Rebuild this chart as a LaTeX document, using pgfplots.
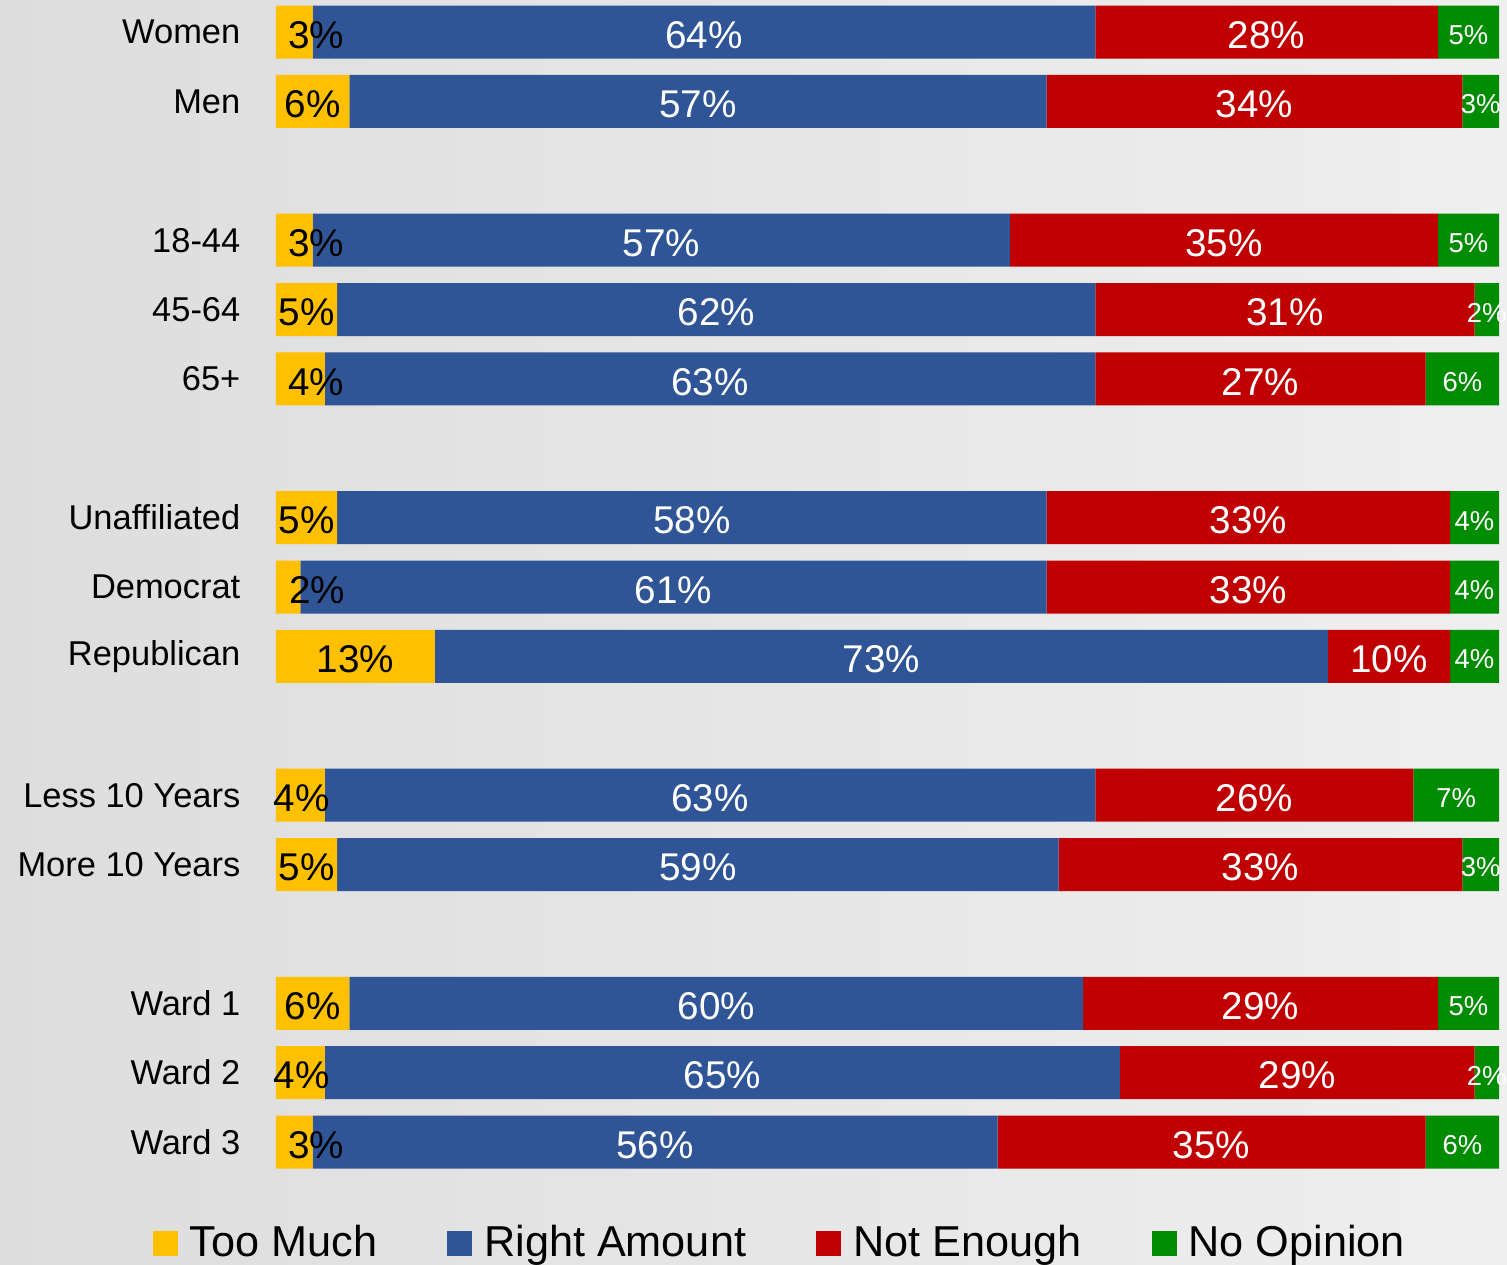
\documentclass[border=0pt]{standalone}
\usepackage{pgfplots}
\pgfplotsset{compat=1.18}
\usepackage{fontspec}
\setmainfont{Liberation Sans}
\definecolor{cY}{HTML}{FFC000}
\definecolor{cB}{HTML}{2F5597}
\definecolor{cR}{HTML}{C00000}
\definecolor{cG}{HTML}{008C00}
\definecolor{bgcol}{HTML}{E4E4E4}
\begin{document}
\begin{tikzpicture}
\shade[left color=bgcol!97!black, right color=bgcol!60!white] (0,0) rectangle (150.7mm,-126.5mm);
\useasboundingbox (0,0) rectangle (150.7mm,-126.5mm);
\pgfplotsset{myax/.style={scale only axis, width=122.3mm, height=117.59mm,
  xmin=0, xmax=100, ymin=-0.45, ymax=16.5, y dir=reverse,
  at={(27.6mm,-0.08mm)}, anchor=north west, clip=false},
  lab/.style={only marks, mark=none,
  nodes near coords={\pgfplotspointmeta\%}, point meta=explicit symbolic,
  nodes near coords align=center,
  every node near coord/.append style={anchor=center, inner sep=0pt, yshift=-0.3mm, #1}}}
\begin{axis}[myax, xbar stacked, bar width=5.3mm,
  axis line style={draw=none}, xtick=\empty,
  ytick={0,1,3,4,5,7,8,9,11,12,14,15,16},
  yticklabels={Women,Men,18-44,45-64,65+,Unaffiliated,Democrat,Republican,Less 10 Years,More 10 Years,Ward 1,Ward 2,Ward 3},
  major tick length=0pt,
  yticklabel style={font=\fontsize{9.8}{12}\selectfont, anchor=east, inner sep=0pt, xshift=-3.5mm},
  legend columns=4,
  legend style={at={(0.414,-0.0564)}, anchor=center, draw=none, fill=none,
    font=\fontsize{12.3}{14}\selectfont,
    /tikz/every even column/.append style={column sep=6.3mm}},
  legend image code/.code={\fill[#1] (0mm,-1.25mm) rectangle (2.5mm,1.25mm); \path (3.0mm,0mm);},
]
\addplot[fill=cY, draw=none] coordinates {(3,0) (6,1) (3,3) (5,4) (4,5) (5,7) (2,8) (13,9) (4,11) (5,12) (6,14) (4,15) (3,16)};
\addplot[fill=cB, draw=none] coordinates {(64,0) (57,1) (57,3) (62,4) (63,5) (58,7) (61,8) (73,9) (63,11) (59,12) (60,14) (65,15) (56,16)};
\addplot[fill=cR, draw=none] coordinates {(28,0) (34,1) (35,3) (31,4) (27,5) (33,7) (33,8) (10,9) (26,11) (33,12) (29,14) (29,15) (35,16)};
\addplot[fill=cG, draw=none] coordinates {(5,0) (3,1) (5,3) (2,4) (6,5) (4,7) (4,8) (4,9) (7,11) (3,12) (5,14) (2,15) (6,16)};
\legend{Too Much, Right Amount, Not Enough, No Opinion}
\end{axis}
\begin{axis}[myax, hide axis]
\addplot[lab={text=black, font=\fontsize{11}{13}\selectfont}] coordinates {(3.3,0)[3] (3,1)[6] (3.3,3)[3] (2.5,4)[5] (3.3,5)[4] (2.5,7)[5] (3.35,8)[2] (6.5,9)[13] (2.1,11)[4] (2.5,12)[5] (3,14)[6] (2.1,15)[4] (3.3,16)[3]};
\addplot[lab={text=white, font=\fontsize{11}{13}\selectfont}] coordinates {(35,0)[64] (34.5,1)[57] (31.5,3)[57] (36,4)[62] (35.5,5)[63] (34,7)[58] (32.5,8)[61] (49.5,9)[73] (35.5,11)[63] (34.5,12)[59] (36,14)[60] (36.5,15)[65] (31,16)[56]};
\addplot[lab={text=white, font=\fontsize{11}{13}\selectfont}] coordinates {(81,0)[28] (80,1)[34] (77.5,3)[35] (82.5,4)[31] (80.5,5)[27] (79.5,7)[33] (79.5,8)[33] (91,9)[10] (80,11)[26] (80.5,12)[33] (80.5,14)[29] (83.5,15)[29] (76.5,16)[35]};
\addplot[lab={text=white, font=\fontsize{7.8}{9}\selectfont}] coordinates {(97.5,0)[5] (98.5,1)[3] (97.5,3)[5] (99,4)[2] (97,5)[6] (98,7)[4] (98,8)[4] (98,9)[4] (96.5,11)[7] (98.5,12)[3] (97.5,14)[5] (99,15)[2] (97,16)[6]};
\end{axis}
\end{tikzpicture}
\end{document}
